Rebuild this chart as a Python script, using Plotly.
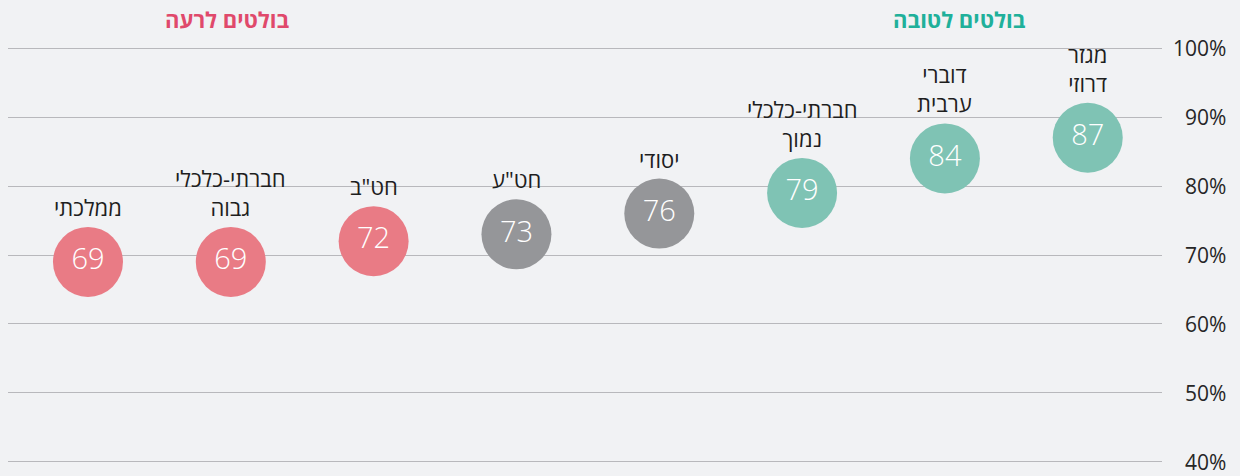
import plotly.graph_objects as go

categories = ["ממלכתי", "חברתי-כלכלי<br>גבוה", "חט\"ב", "חט\"ע", "יסודי",
              "חברתי-כלכלי<br>נמוך", "דוברי<br>ערבית", "מגזר<br>דרוזי"]
values = [69, 69, 72, 73, 76, 79, 84, 87]
groups = ["bad", "bad", "bad", "neutral", "neutral", "good", "good", "good"]
tick_values = [40, 50, 60, 70, 80, 90, 100]
tick_labels = [f"{t}%" for t in tick_values]
group_titles = ["בולטים לרעה", "בולטים לטובה"]

colors = {"bad": "#e97b85", "neutral": "#959699", "good": "#7fc3b4"}
FONT = "Open Sans, Liberation Sans, DejaVu Sans, sans-serif"

xs = list(range(len(values)))
fig = go.Figure()
fig.add_trace(go.Scatter(
    x=xs, y=values, mode="markers+text",
    marker=dict(size=70, color=[colors[g] for g in groups], line=dict(width=0)),
    text=[str(v) for v in values], textposition="middle center",
    textfont=dict(family=FONT, size=29, color="white", weight=300),
    hoverinfo="skip", showlegend=False, cliponaxis=False,
))

annotations = []
for x, v, c in zip(xs, values, categories):
    annotations.append(dict(x=x, y=v, xref="x", yref="y", text=c, showarrow=False,
                            yanchor="bottom", yshift=38,
                            font=dict(family=FONT, size=22, color="#1e1e1e")))
for t, lab in zip(tick_values, tick_labels):
    annotations.append(dict(x=1, y=t, xref="paper", yref="y", text=lab, showarrow=False,
                            xanchor="right", yanchor="middle", xshift=66,
                            font=dict(family=FONT, size=21, color="#262626")))
annotations.append(dict(x=0.97, y=1, xref="x", yref="paper", text="<b>" + group_titles[0] + "</b>",
                        showarrow=False, yanchor="middle", yshift=28,
                        font=dict(family=FONT, size=22, color="#e0496b")))
annotations.append(dict(x=6.1, y=1, xref="x", yref="paper", text="<b>" + group_titles[1] + "</b>",
                        showarrow=False, yanchor="middle", yshift=28,
                        font=dict(family=FONT, size=22, color="#20b09a")))

fig.update_layout(
    width=1240, height=476,
    margin=dict(l=8, r=78, t=47, b=13),
    paper_bgcolor="#f1f2f4", plot_bgcolor="#f1f2f4",
    xaxis=dict(range=[-0.56, 7.52], visible=False, fixedrange=True),
    yaxis=dict(range=[39.85, 100.15], side="right", tickvals=tick_values, showticklabels=False,
               showgrid=True, gridcolor="#b8b8bc", gridwidth=1, zeroline=False,
               showline=False, fixedrange=True),
    annotations=annotations,
    showlegend=False,
)
fig.write_html("out.html", config={"displayModeBar": False},
               post_script="document.body.style.margin='0';document.body.style.background='#f1f2f4';")
